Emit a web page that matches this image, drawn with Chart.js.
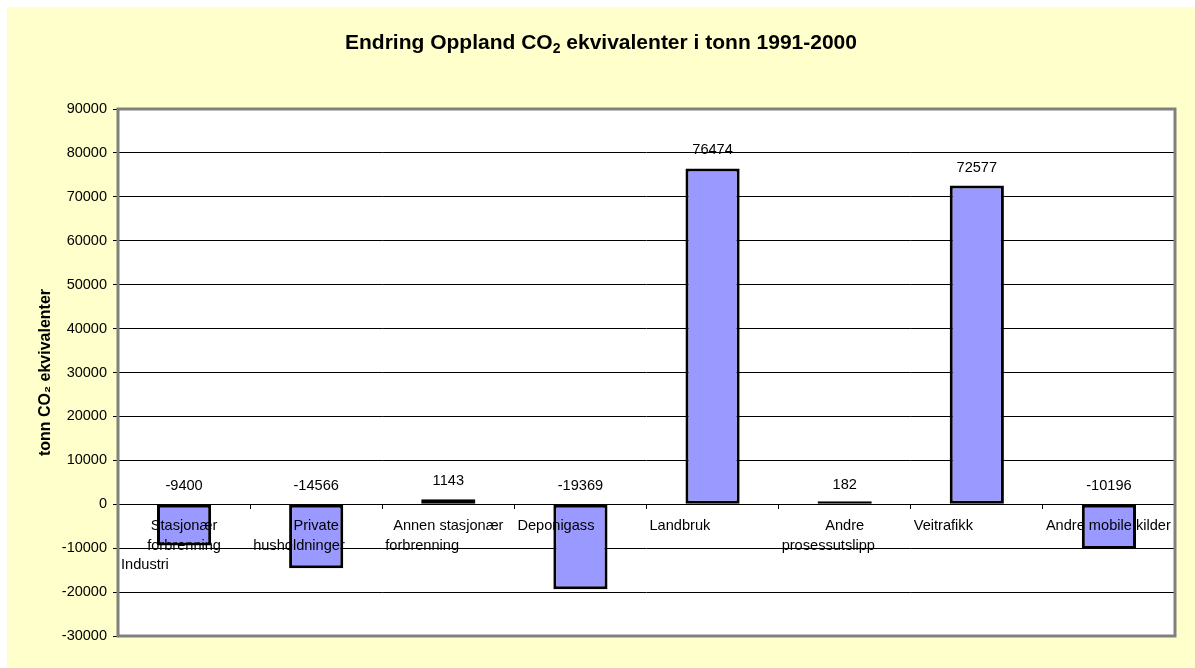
<!DOCTYPE html>
<html>
<head>
<meta charset="utf-8">
<script src="https://cdn.jsdelivr.net/npm/chart.js@4/dist/chart.umd.min.js"></script>
<style>
  html, body { margin: 0; padding: 0; background: #fff; }
</style>
</head>
<body>
<canvas id="co2-chart" width="1195" height="668"></canvas>
<script>
const categories = [
  ['Stasjonær', 'forbrenning', 'Industri'],
  ['Private', 'husholdninger'],
  ['Annen stasjonær', 'forbrenning'],
  ['Deponigass'],
  ['Landbruk'],
  ['Andre', 'prosessutslipp'],
  ['Veitrafikk'],
  ['Andre mobile kilder']
];
const values = [-9400, -14566, 1143, -19369, 76474, 182, 72577, -10196];
const yMin = -30000;
const yMax = 90000;
const yStep = 10000;
// title pieces, the "2" is drawn as a subscript
const titleParts = ['Endring Oppland CO', '2', ' ekvivalenter i tonn 1991-2000'];

// Excel wrapped these labels unevenly, some lines hug the left edge of the category
const lineAlign = [
  ['center', 'center', 'left'],
  ['center', 'left'],
  ['center', 'left'],
  ['left'],
  ['left'],
  ['center', 'left'],
  ['left'],
  ['left']
];

const FONT = 'Arial, "Liberation Sans", sans-serif';
Chart.defaults.font.family = FONT;
Chart.defaults.color = '#000';

const background = {
  id: 'background',
  beforeDraw(chart) {
    const ctx = chart.ctx;
    const a = chart.chartArea;
    ctx.save();
    ctx.fillStyle = '#fff';
    ctx.fillRect(0, 0, chart.width, chart.height);
    ctx.fillStyle = '#FFFFCC';
    ctx.fillRect(7, 7, chart.width - 7, chart.height - 7);
    ctx.fillStyle = '#fff';
    ctx.fillRect(a.left, a.top, a.right - a.left, a.bottom - a.top);

    // title with a real subscript
    const big = 'bold 21px ' + FONT;
    const small = 'bold 14px ' + FONT;
    ctx.font = big;
    const w0 = ctx.measureText(titleParts[0]).width;
    const w2 = ctx.measureText(titleParts[2]).width;
    ctx.font = small;
    const w1 = ctx.measureText(titleParts[1]).width;
    let tx = (chart.width + 7) / 2 - (w0 + w1 + w2) / 2;
    const ty = 49;
    ctx.fillStyle = '#000';
    ctx.textAlign = 'left';
    ctx.textBaseline = 'alphabetic';
    ctx.font = big;
    ctx.fillText(titleParts[0], tx, ty);
    tx += w0;
    ctx.font = small;
    ctx.fillText(titleParts[1], tx, ty + 4);
    tx += w1;
    ctx.font = big;
    ctx.fillText(titleParts[2], tx, ty);
    ctx.restore();
  }
};

const labels = {
  id: 'labels',
  afterDatasetsDraw(chart) {
    const ctx = chart.ctx;
    const x = chart.scales.x;
    const y = chart.scales.y;
    const zero = y.getPixelForValue(0);
    const half = (x.getPixelForValue(1) - x.getPixelForValue(0)) / 2;
    ctx.save();
    ctx.font = '14.6px ' + FONT;
    ctx.fillStyle = '#000';
    ctx.textBaseline = 'middle';
    // category names just under the zero line
    categories.forEach((lines, i) => {
      const cx = x.getPixelForValue(i);
      lines.forEach((t, j) => {
        const ly = zero + 22 + j * 19.5;
        if (lineAlign[i][j] === 'left') {
          ctx.textAlign = 'left';
          ctx.fillText(t, cx - half + 3, ly);
        } else {
          ctx.textAlign = 'center';
          ctx.fillText(t, cx, ly);
        }
      });
    });
    // value labels, above the bar or above zero for negatives
    ctx.textAlign = 'center';
    values.forEach((v, i) => {
      ctx.fillText(String(v), x.getPixelForValue(i), y.getPixelForValue(Math.max(v, 0)) - 18);
    });
    ctx.restore();
  },
  afterDraw(chart) {
    const a = chart.chartArea;
    const ctx = chart.ctx;
    ctx.save();
    ctx.strokeStyle = '#808080';
    ctx.lineWidth = 3;
    ctx.strokeRect(a.left, a.top, a.right - a.left, a.bottom - a.top);
    ctx.restore();
  }
};

new Chart(document.getElementById('co2-chart'), {
  type: 'bar',
  plugins: [background, labels],
  data: {
    labels: categories.map(c => c.join(' ')),
    datasets: [{
      data: values,
      backgroundColor: '#9999FF',
      borderColor: '#000',
      borderWidth: 3,
      borderSkipped: false,
      barPercentage: 0.41,
      categoryPercentage: 1,
      minBarLength: 3
    }]
  },
  options: {
    responsive: false,
    animation: false,
    devicePixelRatio: 1,
    layout: { padding: { left: 7, right: 20, top: 109, bottom: 32 } },
    plugins: {
      legend: { display: false },
      tooltip: { enabled: false },
      title: { display: false }
    },
    scales: {
      x: {
        type: 'category',
        position: { y: 0 },
        offset: true,
        afterFit(s) { s.height = 0; },
        ticks: { display: false },
        border: { display: false },
        grid: { offset: true, drawOnChartArea: false, drawTicks: true, tickLength: 5, color: '#000' }
      },
      y: {
        min: yMin,
        max: yMax,
        afterFit(s) { s.width = 111; },
        ticks: {
          stepSize: yStep,
          font: { size: 14.5 },
          color: '#000',
          padding: 6,
          callback: v => String(v)
        },
        border: { display: false },
        grid: { color: '#000', lineWidth: 1, tickLength: 5 },
        title: {
          display: true,
          text: 'tonn CO₂ ekvivalenter',
          font: { size: 16, weight: 'bold' },
          color: '#000',
          padding: { top: 28.5, bottom: 0 }
        }
      }
    }
  }
});
</script>
</body>
</html>
